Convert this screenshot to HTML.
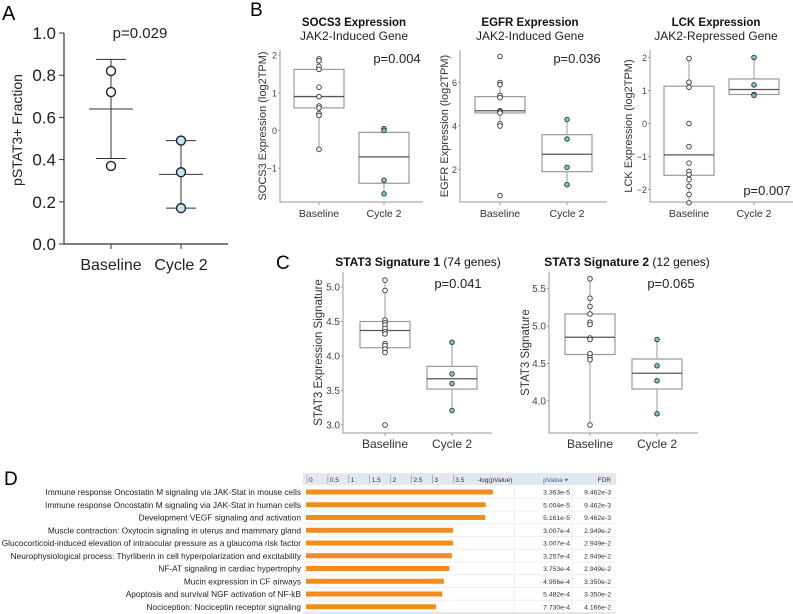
<!DOCTYPE html>
<html><head><meta charset="utf-8"><style>
body{margin:0;background:#fff;}
svg{display:block;font-family:"Liberation Sans",Arial,sans-serif;}
</style></head><body>
<svg id="fig" width="793" height="614" viewBox="0 0 793 614">
<g id="A"></g>
<g id="B"></g>
<g id="C"></g>
<g id="D"></g>
</svg>
<script>
// ---- Panel A data
const aGroups=["Baseline","Cycle 2"];
const aBase=[0.82,0.72,0.37];
const aCyc=[0.49,0.34,0.17];
const aMean=[0.64,0.33];
const aLow=[0.405,0.17];
const aHigh=[0.875,0.49];
const aTicks=[0,0.2,0.4,0.6,0.8,1.0];
// ---- Panel B/C box data: [q1, median, q3, whiskerLo, whiskerHi]
const socs3Base=[1.9,1.85,1.7,1.62,1.15,0.9,0.9,0.65,0.6,0.45,0.4,-0.5];
const socs3Cyc=[0.05,0.0,-1.32,-1.68];
const socs3BoxB=[0.6,0.9,1.62,-0.5,1.9];
const socs3BoxC=[-1.4,-0.7,-0.05,-1.68,0.05];
const egfrBase=[7.2,6.0,5.9,5.4,5.3,4.7,4.65,4.6,4.1,4.0,0.8];
const egfrCyc=[4.3,3.4,2.1,1.3];
const egfrBoxB=[4.6,4.7,5.35,4.0,6.0];
const egfrBoxC=[1.9,2.7,3.6,1.3,4.3];
const lckBase=[1.97,1.25,1.1,0,-0.7,-1.2,-1.45,-1.55,-1.7,-1.9,-2.15,-2.4];
const lckCyc=[2.0,1.17,0.88,0.85];
const lckBoxB=[-1.57,-0.95,1.13,-2.4,1.97];
const lckBoxC=[0.88,1.03,1.35,0.85,2.0];
const sig1Base=[5.1,4.95,4.52,4.48,4.45,4.4,4.35,4.32,4.18,4.15,4.1,4.05,3.0];
const sig1Cyc=[4.2,3.74,3.6,3.21];
const sig1BoxB=[4.12,4.37,4.5,4.04,5.1];
const sig1BoxC=[3.52,3.67,3.85,3.21,4.2];
const sig2Base=[5.63,5.37,5.26,5.16,5.05,5.02,4.84,4.82,4.63,4.58,4.55,3.68];
const sig2Cyc=[4.82,4.47,4.27,3.83];
const sig2BoxB=[4.62,4.85,5.16,3.68,5.63];
const sig2BoxC=[4.16,4.37,4.56,3.83,4.82];
// ---- Panel D data
const dLabels=["Immune response Oncostatin M signaling via JAK-Stat in mouse cells","Immune response Oncostatin M signaling via JAK-Stat in human cells","Development VEGF signaling and activation","Muscle contraction: Oxytocin signaling in uterus and mammary gland","Glucocorticoid-induced elevation of intraocular pressure as a glaucoma risk factor","Neurophysiological process: Thyrliberin in cell hyperpolarization and excitability","NF-AT signaling in cardiac hypertrophy","Mucin expression in CF airways","Apoptosis and survival NGF activation of NF-kB","Nociception: Nociceptin receptor signaling"];
const dNegLog=[4.47,4.30,4.29,3.52,3.52,3.49,3.43,3.30,3.26,3.11];
const dPval=["3.363e-5","5.004e-5","5.161e-5","3.007e-4","3.007e-4","3.257e-4","3.753e-4","4.956e-4","5.482e-4","7.730e-4"];
const dFdr=["9.462e-3","9.462e-3","9.462e-3","2.949e-2","2.949e-2","2.949e-2","2.949e-2","3.350e-2","3.350e-2","4.166e-2"];
const dTicks=["0","0.5","1","1.5","2","2.5","3","3.5"];

const NS="http://www.w3.org/2000/svg";
function el(parent,tag,attrs,text){const e=document.createElementNS(NS,tag);for(const k in attrs)e.setAttribute(k,attrs[k]);if(text!==undefined)e.textContent=text;parent.appendChild(e);return e;}

// ===== Panel A
(function(){
const g=document.getElementById('A');
const y=v=>244-v*211;
const xs=[111,181];
let t=el(g,'text',{x:2,y:20,'font-size':20},'A');


let ax=el(g,'path',{d:'M64,33V244H228',stroke:'#333','stroke-width':1.2,fill:'none'});


aTicks.forEach(v=>{
  el(g,'line',{x1:59,x2:64,y1:y(v),y2:y(v),stroke:'#333'});
  const tt=el(g,'text',{x:56,y:y(v)+6,'font-size':17,'text-anchor':'end',fill:'#222'},v.toFixed(1));
  
  
});
xs.forEach((x,i)=>{
  el(g,'line',{x1:x,x2:x,y1:244,y2:249,stroke:'#333'});
  const tt=el(g,'text',{x:x,y:270,'font-size':16,'text-anchor':'middle',fill:'#222'},aGroups[i]);
  
  
});
const yt=el(g,'text',{transform:'translate(22,130) rotate(-90)','font-size':14,'text-anchor':'middle',fill:'#222'},'pSTAT3+ Fraction');


const p=el(g,'text',{x:140,y:38,'font-size':15,'text-anchor':'middle',fill:'#222'},'p=0.029');


[aBase,aCyc].forEach((arr,i)=>{
  const x=xs[i];
  el(g,'line',{x1:x,x2:x,y1:y(aLow[i]),y2:y(aHigh[i]),stroke:'#333'});
  el(g,'line',{x1:x-15,x2:x+15,y1:y(aLow[i]),y2:y(aLow[i]),stroke:'#333'});
  el(g,'line',{x1:x-15,x2:x+15,y1:y(aHigh[i]),y2:y(aHigh[i]),stroke:'#333'});
  const m=el(g,'line',{x1:x-22,x2:x+22,y1:y(aMean[i]),y2:y(aMean[i]),stroke:'#333'});
  
  
  arr.forEach(v=>{
    const c=el(g,'circle',{cx:x,cy:y(v),r:4.5,fill:i?'#bfe6f0':'#fff',stroke:'#222','stroke-width':1.4});
    
    
  });
});
})();

// ===== generic boxplot panel
function boxPanel(g,o){
  const y=v=>o.y0-(v-o.v0)*o.k;
  const ax=el(g,'path',{d:`M${o.ax},${o.top}V${o.bot}H${o.xend}`,stroke:'#999','stroke-width':1,fill:'none'});
  
  
  o.ticks.forEach(v=>{
    el(g,'line',{x1:o.ax-2,x2:o.ax,y1:y(v),y2:y(v),stroke:'#999'});
    const t=el(g,'text',{x:o.ax-3,y:y(v)+3.5,'font-size':o.tfs,'text-anchor':'end',fill:'#444'},o.tl?o.tl(v):String(v));
    
    
  });
  ['Baseline','Cycle 2'].forEach((lab,i)=>{
    const x=o.xs[i];
    el(g,'line',{x1:x,x2:x,y1:o.bot,y2:o.bot+3,stroke:'#999'});
    const t=el(g,'text',{x:x,y:o.bot+15,'font-size':o.lfs,'text-anchor':'middle',fill:'#333'},lab);
    
    
    const b=o.boxes[i];
    el(g,'line',{x1:x,x2:x,y1:y(b[3]),y2:y(b[0]),stroke:'#999'});
    el(g,'line',{x1:x,x2:x,y1:y(b[2]),y2:y(b[4]),stroke:'#999'});
    const r=el(g,'rect',{x:x-25,y:y(b[2]),width:50,height:y(b[0])-y(b[2]),fill:'#fff',stroke:'#999','stroke-width':1.2});
    
    
    const m=el(g,'line',{x1:x-25,x2:x+25,y1:y(b[1]),y2:y(b[1]),stroke:'#555','stroke-width':1.3});
    
    
    o.pts[i].forEach(v=>{
      const c=el(g,'circle',{cx:x,cy:y(v),r:2.3,fill:i?'#74c6d4':'#fff',stroke:'#333','stroke-width':0.9});
      
      
    });
  });
  const yt=el(g,'text',{transform:`translate(${o.ytx},${(o.top+o.bot)/2}) rotate(-90)`,'font-size':o.yfs,'text-anchor':'middle',fill:'#333'},o.ytitle);
  
  
  const p=el(g,'text',{x:o.px,y:o.py,'font-size':o.pfs,'text-anchor':'middle',fill:'#222'},o.p);
  
  
  const tt=el(g,'text',{x:o.tx,y:o.ty,'font-size':o.tfsz,'text-anchor':'middle',fill:'#111'});
  el(tt,'tspan',{'font-weight':'bold'},o.title);
  if(o.title2)el(tt,'tspan',{},o.title2);
  
  
  if(o.sub){
    const s=el(g,'text',{x:o.tx,y:o.ty+14,'font-size':12,'text-anchor':'middle',fill:'#222'},o.sub);
    
    
  }
}
(function(){
const g=document.getElementById('B');
const L=el(g,'text',{x:250,y:16,'font-size':19},'B');


const base={top:50,bot:202,tfs:9,lfs:10.5,yfs:11,pfs:13,tfsz:11.5};
const neg=v=>v<0?'\u2212'+Math.abs(v):String(v);
boxPanel(g,Object.assign({},base,{ax:280,xend:423,y0:130.5,v0:0,k:37.7,ticks:[-1,0,1,2],tl:neg,xs:[319,384],boxes:[socs3BoxB,socs3BoxC],pts:[socs3Base,socs3Cyc],ytx:266,ytitle:'SOCS3 Expression (log2TPM)',px:397,py:63,p:'p=0.004',tx:354,ty:26,title:'SOCS3 Expression',sub:'JAK2-Induced Gene'}));
boxPanel(g,Object.assign({},base,{ax:460,xend:607,y0:126,v0:4,k:21.75,ticks:[2,4,6],xs:[500,567],boxes:[egfrBoxB,egfrBoxC],pts:[egfrBase,egfrCyc],ytx:448,ytitle:'EGFR Expression (log2TPM)',px:577,py:63,p:'p=0.036',tx:530,ty:26,title:'EGFR Expression',sub:'JAK2-Induced Gene'}));
boxPanel(g,Object.assign({},base,{ax:650,xend:793,y0:123.5,v0:0,k:33,ticks:[-2,-1,0,1,2],tl:neg,xs:[689,754],boxes:[lckBoxB,lckBoxC],pts:[lckBase,lckCyc],ytx:632,ytitle:'LCK Expression (log2TPM)',px:767,py:195,p:'p=0.007',tx:716,ty:26,title:'LCK Expression',sub:'JAK2-Repressed Gene'}));
})();
(function(){
const g=document.getElementById('C');
const L=el(g,'text',{x:276,y:269,'font-size':19},'C');


const base={top:272,bot:433,tfs:10,lfs:12,yfs:11.5,pfs:13,tfsz:12};
boxPanel(g,Object.assign({},base,{ax:343,xend:492,y0:425,v0:3,k:69,ticks:[3,3.5,4,4.5,5],tl:v=>v.toFixed(1),xs:[385,452],boxes:[sig1BoxB,sig1BoxC],pts:[sig1Base,sig1Cyc],ytx:322,ytitle:'STAT3 Expression Signature',px:458,py:288,p:'p=0.041',tx:418,ty:266,title:'STAT3 Signature 1',title2:' (74 genes)'}));
boxPanel(g,Object.assign({},base,{ax:549,xend:698,y0:401,v0:4,k:75,ticks:[4,4.5,5,5.5],tl:v=>v.toFixed(1),xs:[590,657],boxes:[sig2BoxB,sig2BoxC],pts:[sig2Base,sig2Cyc],ytx:529,ytitle:'STAT3 Signature',px:671,py:288,p:'p=0.065',tx:627,ty:266,title:'STAT3 Signature 2',title2:' (12 genes)'}));
})();
// ===== Panel D
(function(){
const g=document.getElementById('D');
const L=el(g,'text',{x:4,y:485,'font-size':19},'D');


const x0=306,k=41.8;
const h=el(g,'rect',{x:303,y:473,width:313,height:12,fill:'#e3e8ef'});


dTicks.forEach((t,i)=>{
  const x=x0+parseFloat(t)*k+2;
  el(g,'line',{x1:x-1,x2:x-1,y1:475,y2:483,stroke:'#888','stroke-width':0.6});
  const tt=el(g,'text',{x:x+1,y:482,'font-size':6.5,fill:'#333'},t);
  
  
});
let t=el(g,'text',{x:495,y:482,'font-size':6.5,'text-anchor':'middle',fill:'#333'},'-log(pValue)');


t=el(g,'text',{x:568,y:482,'font-size':6.5,'text-anchor':'end',fill:'#3a62b0'},'pValue \u25BE');


t=el(g,'text',{x:611,y:482,'font-size':6.5,'text-anchor':'end',fill:'#333'},'FDR');


el(g,'line',{x1:514,x2:514,y1:486,y2:613,stroke:'#eee'});
el(g,'line',{x1:572,x2:572,y1:486,y2:613,stroke:'#eee'});
dLabels.forEach((lab,i)=>{
  const yc=492+i*12.75;
  el(g,'line',{x1:303,x2:616,y1:yc+6.3,y2:yc+6.3,stroke:i==9?'#ccc':'#eee'});
  const l=el(g,'text',{x:301,y:yc+3,'font-size':8.3,'text-anchor':'end',fill:'#222'},lab);
  
  
  const b=el(g,'rect',{x:x0,y:yc-2.5,width:dNegLog[i]*k,height:5,fill:'#f28c1c'});
  
  
  const pv=el(g,'text',{x:570,y:yc+2.5,'font-size':6.8,'text-anchor':'end',fill:'#333'},dPval[i]);
  
  
  const fd=el(g,'text',{x:611,y:yc+2.5,'font-size':6.8,'text-anchor':'end',fill:'#333'},dFdr[i]);
  
  
});
})();
</script>
</body></html>
